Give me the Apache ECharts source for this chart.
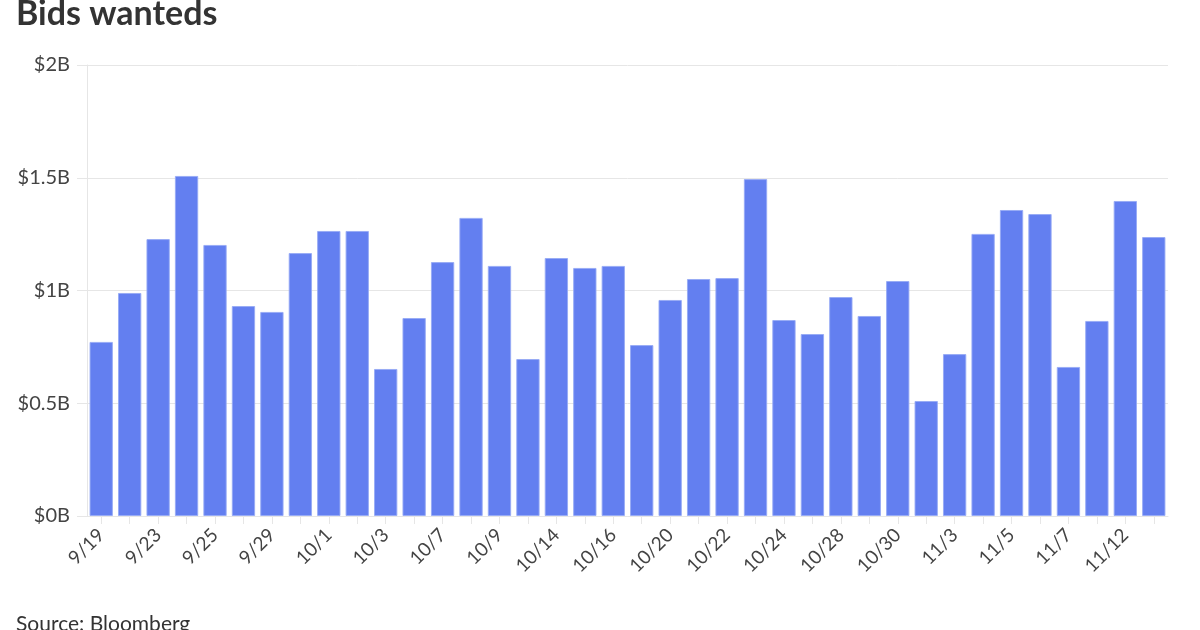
<!DOCTYPE html>
<html>
<head>
<meta charset="utf-8">
<script src="https://cdn.jsdelivr.net/npm/echarts@6/dist/echarts.min.js"></script>
<style>
html,body{margin:0;padding:0;background:#fff;}
#chart{width:1200px;height:630px;}
</style>
</head>
<body>
<div id="chart"></div>
<script>
const categories = ["9/19","9/22","9/23","9/24","9/25","9/26","9/29","9/30","10/1","10/2","10/3","10/6","10/7","10/8","10/9","10/10","10/14","10/15","10/16","10/17","10/20","10/21","10/22","10/23","10/24","10/27","10/28","10/29","10/30","10/31","11/3","11/4","11/5","11/6","11/7","11/10","11/12","11/13"];
const values = [0.772,0.989,1.228,1.508,1.202,0.931,0.905,1.166,1.264,1.264,0.652,0.878,1.126,1.322,1.109,0.696,1.144,1.100,1.109,0.758,0.958,1.051,1.055,1.494,0.869,0.807,0.971,0.887,1.042,0.510,0.718,1.251,1.357,1.339,0.661,0.865,1.397,1.237];
const yTicks = {0:"$0B",0.5:"$0.5B",1:"$1B",1.5:"$1.5B",2:"$2B"};
const titleText = "Bids wanteds";
const sourceText = "Source: Bloomberg";

const chart = echarts.init(document.getElementById('chart'), null, {renderer:'canvas'});
chart.setOption({
  animation:false,
  backgroundColor:'#fff',
  textStyle:{fontFamily:'Lato'},
  title:[
    {text:titleText,left:11,top:-8,textStyle:{fontFamily:'Lato',fontWeight:'bold',fontSize:34,color:'#333'}},
    {text:sourceText,left:11,top:609,textStyle:{fontFamily:'Lato',fontWeight:'normal',fontSize:21,color:'#333'}}
  ],
  grid:{left:87,right:32,top:65,bottom:114,containLabel:false},
  xAxis:{
    type:'category',
    data:categories,
    axisLine:{show:true,lineStyle:{color:'#e6e6e6',width:1}},
    axisTick:{show:true,alignWithLabel:true,interval:0,length:8,lineStyle:{color:'#e6e6e6'}},
    axisLabel:{interval:1,rotate:45,fontSize:19,color:'#444',fontFamily:'Lato',margin:16}
  },
  yAxis:{
    type:'value',min:0,max:2,interval:0.5,
    axisLine:{show:true,lineStyle:{color:'#e6e6e6'}},
    axisTick:{show:true,length:10,lineStyle:{color:'#e6e6e6'}},
    splitLine:{show:true,lineStyle:{color:'#e6e6e6'}},
    axisLabel:{formatter:v=>yTicks[v]!==undefined?yTicks[v]:'',fontSize:20,color:'#444',fontFamily:'Lato',margin:17}
  },
  series:[{
    type:'bar',
    data:values,
    barCategoryGap:'18%',
    itemStyle:{color:'#637ff0',borderColor:'rgba(150,170,245,0.9)',borderWidth:1}
  }]
});
</script>
</body>
</html>
